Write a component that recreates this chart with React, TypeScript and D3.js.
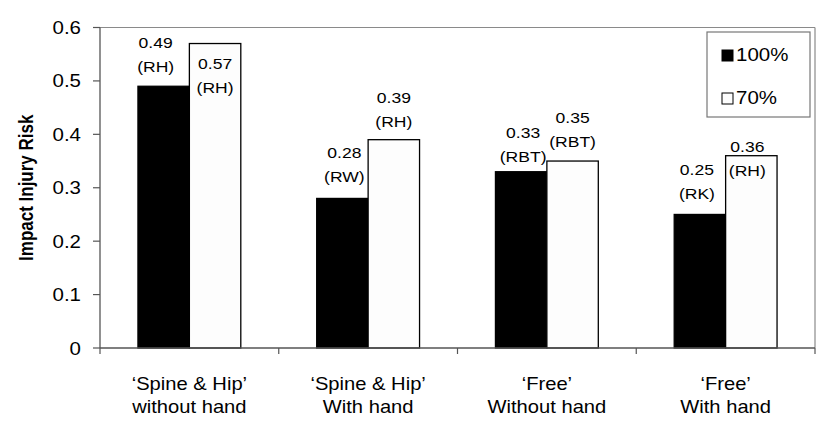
import { scaleBand, scaleLinear } from "d3";

// chart data
const categoryLines = [
  ["‘Spine & Hip’", "without hand"],
  ["‘Spine & Hip’", "With hand"],
  ["‘Free’", "Without hand"],
  ["‘Free’", "With hand"],
];
const seriesNames = ["100%", "70%"];
const values100 = [0.49, 0.28, 0.33, 0.25];
const values70 = [0.57, 0.39, 0.35, 0.36];
const codes100 = ["RH", "RW", "RBT", "RK"];
const codes70 = ["RH", "RH", "RBT", "RH"];
const yTickLabels = ["0", "0.1", "0.2", "0.3", "0.4", "0.5", "0.6"];
const yTitle = "Impact Injury Risk";

// label nudges (layout only), first-line baseline relative to bar top
const labelDy = [
  [-38, -40, -34, -39],
  [25, -37, -38, -4],
];
const labelDx = [
  [-8, 2, 2, -3],
  [0, 0, 0, -4],
];

const W = 830;
const H = 436;
const m = { left: 100, right: 15, top: 27.5, bottom: 88 };
const FONT = "'Liberation Sans', Arial, sans-serif";

// the reference text looks a bit stretched sideways
const T = ({ x, y, size, anchor = "middle", sx = 1.17, children }: any) => (
  <text
    transform={`translate(${x},${y}) scale(${sx},1)`}
    fontSize={size}
    fontFamily={FONT}
    textAnchor={anchor}
    fill="#000"
  >
    {children}
  </text>
);

export default function App() {
  const x0 = scaleBand<number>()
    .domain(categoryLines.map((_, i) => i))
    .range([m.left, W - m.right])
    .paddingInner(0)
    .paddingOuter(0);
  const x1 = scaleBand<string>()
    .domain(seriesNames)
    .range([0, x0.bandwidth()])
    .paddingInner(0)
    .paddingOuter(0.738);
  const y = scaleLinear()
    .domain([0, 0.6])
    .range([H - m.bottom, m.top]);

  const seriesValues = [values100, values70];
  const seriesCodes = [codes100, codes70];
  const fills = ["#000", "#fdfdfd"];
  const bottom = y(0);
  const right = W - m.right;
  const boundaries = [...categoryLines.map((_, i) => x0(i)!), right];

  return (
    <svg width={W} height={H} style={{ position: "absolute", left: 0, top: 0, background: "#fff" }}>
      {/* plot frame */}
      <line x1={m.left} x2={right} y1={m.top} y2={m.top} stroke="#8a8a8a" strokeWidth={1.2} />
      <line x1={right} x2={right} y1={m.top} y2={bottom} stroke="#8a8a8a" strokeWidth={1.2} />

      {/* bars */}
      {seriesValues.map((vals, s) =>
        vals.map((v, i) => (
          <rect
            key={`b${s}-${i}`}
            x={x0(i)! + x1(seriesNames[s])!}
            y={y(v)}
            width={x1.bandwidth()}
            height={bottom - y(v)}
            fill={fills[s]}
            stroke="#000"
            strokeWidth={1.3}
          />
        ))
      )}

      {/* y axis */}
      <line x1={m.left} x2={m.left} y1={m.top} y2={bottom} stroke="#555" strokeWidth={1.3} />
      {yTickLabels.map((lab, i) => {
        const v = +lab;
        return (
          <g key={`yt${i}`}>
            <line x1={m.left - 7} x2={m.left} y1={y(v)} y2={y(v)} stroke="#555" strokeWidth={1.2} />
            <T x={81} y={y(v) + 6.5} size={17.5} anchor="end">
              {lab}
            </T>
          </g>
        );
      })}
      <text
        transform={`translate(33,${(m.top + bottom) / 2}) rotate(-90) scale(1,1.2)`}
        fontSize={17}
        fontFamily={FONT}
        fontWeight="bold"
        textAnchor="middle"
      >
        {yTitle}
      </text>

      {/* x axis */}
      <line x1={m.left} x2={right} y1={bottom} y2={bottom} stroke="#555" strokeWidth={1.3} />
      {boundaries.map((bx, i) => (
        <line key={`xt${i}`} x1={bx} x2={bx} y1={bottom} y2={bottom + 6} stroke="#555" strokeWidth={1.2} />
      ))}
      {categoryLines.map((lines, i) => {
        const cx = x0(i)! + x0.bandwidth() / 2;
        return lines.map((l, k) => (
          <T key={`xl${i}-${k}`} x={cx} y={390 + k * 23} size={18} sx={1.12}>
            {l}
          </T>
        ));
      })}

      {/* data labels */}
      {seriesValues.map((vals, s) =>
        vals.map((v, i) => {
          const cx = x0(i)! + x1(seriesNames[s])! + x1.bandwidth() / 2 + labelDx[s][i];
          const by = y(v) + labelDy[s][i];
          return (
            <g key={`dl${s}-${i}`}>
              <T x={cx} y={by} size={15}>
                {v.toFixed(2)}
              </T>
              <T x={cx} y={by + 24} size={15}>
                {`(${seriesCodes[s][i]})`}
              </T>
            </g>
          );
        })
      )}

      {/* legend */}
      <rect x={707} y={32} width={103} height={85} fill="#fff" stroke="#777" strokeWidth={1.2} />
      {seriesNames.map((name, s) => {
        const ly = s === 0 ? 61 : 104;
        return (
          <g key={`lg${s}`}>
            <rect x={722} y={ly - 11} width={11} height={11} fill={fills[s]} stroke="#000" strokeWidth={1} />
            <T x={736} y={ly} size={17.5} anchor="start">
              {name}
            </T>
          </g>
        );
      })}
    </svg>
  );
}
